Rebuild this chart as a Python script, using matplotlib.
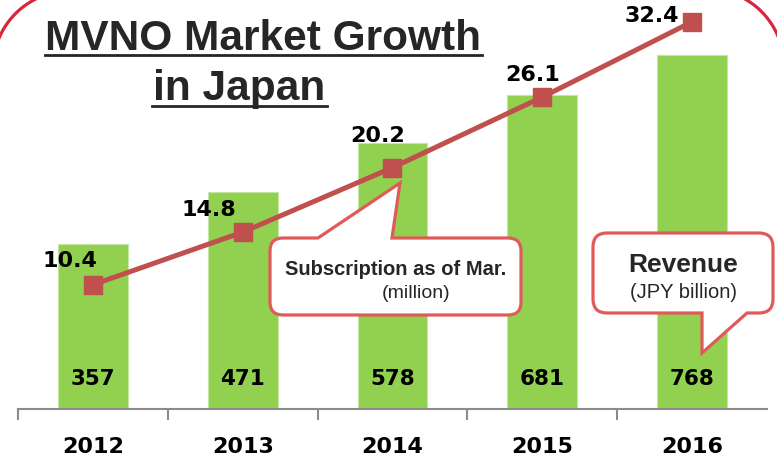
import numpy as np
import matplotlib
matplotlib.use("Agg")
from matplotlib import pyplot as plt
from matplotlib.path import Path
from matplotlib.patches import PathPatch

years = ["2012", "2013", "2014", "2015", "2016"]
revenue = [357, 471, 578, 681, 768]            # JPY billion (bars)
subscriptions = [10.4, 14.8, 20.2, 26.1, 32.4]  # million (line)

# label offsets for the line values, in points
sub_offsets = [(-16.5, 17), (-24, 16), (-11, 23), (-7, 16), (-29, 4)]

W, H = 777, 463
fig = plt.figure(figsize=(W / 100, H / 100), dpi=100)

# main axes: baseline at y=409 px, categories 150 px apart
ax = fig.add_axes([18 / W, (H - 409) / H, 749 / W, 409 / H])
x = np.arange(len(years))
ax.bar(x, revenue, width=0.467, color="#92d050", edgecolor="#c4e6a2", linewidth=0.8, zorder=2)
ax.set_xlim(-0.5, 4.5)
ax.set_ylim(0, 409 / 0.461)
for s in ["top", "left", "right"]:
    ax.spines[s].set_visible(False)
ax.spines["bottom"].set_color("#8c8c8c")
ax.spines["bottom"].set_linewidth(1.5)
ax.set_yticks([])
ax.set_xticks(np.arange(-0.5, 4.0, 1.0))
ax.tick_params(axis="x", length=8, width=1.5, color="#8c8c8c", labelbottom=False)

for i, (yr, rev) in enumerate(zip(years, revenue)):
    ax.annotate(yr, xy=(i, 0), xycoords=("data", "axes fraction"), xytext=(0, -27.5),
                textcoords="offset points", ha="center", va="center",
                fontsize=16, fontweight="bold", color="black", annotation_clip=False)
    ax.annotate(str(rev), xy=(i, 0), xycoords=("data", "axes fraction"), xytext=(0, 21.5),
                textcoords="offset points", ha="center", va="center",
                fontsize=15.5, fontweight="bold", color="black")

ax2 = ax.twinx()
ax2.set_ylim(0, 409 / 11.95)
ax2.axis("off")
ax2.plot(x, subscriptions, color="#c0504d", linewidth=3.6, marker="s", markersize=13.5,
         markerfacecolor="#c0504d", markeredgecolor="#c0504d", zorder=3)
for i, (v, off) in enumerate(zip(subscriptions, sub_offsets)):
    ax2.annotate(f"{v:.1f}", xy=(i, v), xytext=off, textcoords="offset points",
                 ha="center", va="center", fontsize=16, fontweight="bold", color="black",
                 annotation_clip=False)

# overlay in pixel coordinates for title, frame and callouts
ov = fig.add_axes([0, 0, 1, 1], zorder=10)
ov.set_xlim(0, W)
ov.set_ylim(H, 0)
ov.axis("off")
ov.patch.set_alpha(0)

# red rounded frame corners (clipped by the figure edge)
t = np.linspace(np.pi, 1.5 * np.pi, 100)
ov.plot(70 + 77 * np.cos(t), 68 + 77 * np.sin(t), color="#d7263d", lw=2.3)
t = np.linspace(1.5 * np.pi, 2 * np.pi, 100)
ov.plot(707 + 77 * np.cos(t), 66 + 77 * np.sin(t), color="#d7263d", lw=2.3)

title_font = dict(family="Liberation Sans", fontweight="bold", fontsize=30.5, color="#262626")
ov.text(263, 50, "MVNO Market Growth", ha="center", va="baseline", zorder=5, **title_font)
ov.text(239, 100, "in Japan", ha="center", va="baseline", zorder=5, **title_font)
ov.plot([45, 482], [55, 55], color="#262626", lw=2, zorder=5)
ov.plot([152, 327], [106, 106], color="#262626", lw=2, zorder=5)


def callout(x0, y0, x1, y1, r, top=(), bottom=()):
    verts = [(x0 + r, y0)]
    codes = [Path.MOVETO]
    for p in top:
        verts.append(p); codes.append(Path.LINETO)
    verts += [(x1 - r, y0), (x1, y0), (x1, y0 + r), (x1, y1 - r), (x1, y1), (x1 - r, y1)]
    codes += [Path.LINETO, Path.CURVE3, Path.CURVE3, Path.LINETO, Path.CURVE3, Path.CURVE3]
    for p in bottom:
        verts.append(p); codes.append(Path.LINETO)
    verts += [(x0 + r, y1), (x0, y1), (x0, y1 - r), (x0, y0 + r), (x0, y0), (x0 + r, y0)]
    codes += [Path.LINETO, Path.CURVE3, Path.CURVE3, Path.LINETO, Path.CURVE3, Path.CURVE3]
    verts.append((x0 + r, y0)); codes.append(Path.CLOSEPOLY)
    return PathPatch(Path(verts, codes), facecolor="white", edgecolor="#e05a5a", lw=2.3,
                     joinstyle="miter", zorder=6)


ov.add_patch(callout(270, 238, 521, 315, 13, top=[(318, 238), (400, 183), (392, 238)]))
ov.add_patch(callout(593, 233, 773, 313, 14, bottom=[(747, 313), (702, 353), (702, 313)]))

box_font = dict(family="Liberation Sans", color="#262626", zorder=7)
ov.text(396, 275, "Subscription as of Mar.", ha="center", va="baseline",
        fontsize=14.5, fontweight="bold", **box_font)
ov.text(416, 294, "(million)", ha="center", va="center", fontsize=14, **box_font)
ov.text(683, 272, "Revenue", ha="center", va="baseline", fontsize=19, fontweight="bold", **box_font)
ov.text(683, 293, "(JPY billion)", ha="center", va="center", fontsize=14.5, **box_font)

fig.savefig("out.png", dpi=100)
